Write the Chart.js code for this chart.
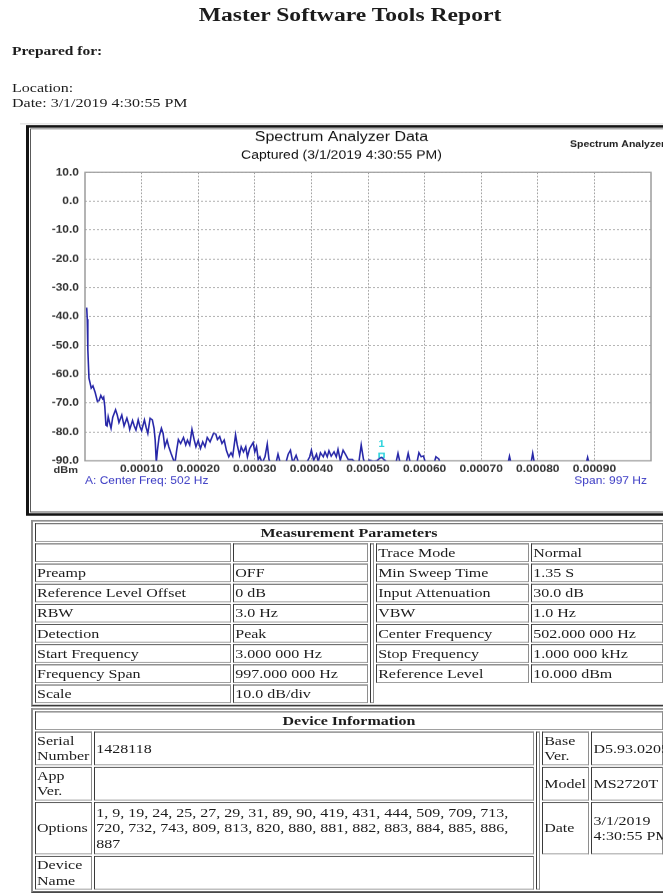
<!DOCTYPE html>
<html>
<head>
<meta charset="utf-8">
<title>Master Software Tools Report</title>
<script src="https://cdn.jsdelivr.net/npm/chart.js@4.4.1/dist/chart.umd.min.js"></script>
<style>
  html, body { margin: 0; padding: 0; width: 663px; height: 895px; overflow: hidden; background: #fff; }
  .page {
    position: absolute; left: 0; top: 0; width: 700px; height: 1066px;
    transform: scaleY(0.84); transform-origin: 0 0;
    font-family: 'Liberation Serif', 'Times New Roman', serif; color: #1c1c1c;
  }
  .report-title { position: absolute; left: 0; top: 3px; width: 700px; margin: 0; text-align: center; font-size: 23.6px; line-height: 28px; font-weight: bold; }
  .prepared { position: absolute; left: 12px; top: 50.5px; font-size: 15.5px; line-height: 18px; font-weight: bold; }
  .meta { position: absolute; left: 12px; top: 94.6px; font-size: 16px; line-height: 18px; }
  .rule { position: absolute; left: 20px; top: 147px; width: 680px; border-top: 1px solid #d2d2d2; }
  .chart-box {
    position: absolute; left: 26px; top: 148.8px; width: 646px; height: 465.5px;
    box-sizing: border-box; border: 3px solid #141414;
    box-shadow: inset 0 0 0 1px #fff, inset 0 0 0 2px #5a5a5a;
  }
  .chart-wrap { position: absolute; left: 3px; top: 1.8px; width: 634px; height: 450px; }
  table.report {
    position: absolute; left: 31px; width: 636px; table-layout: fixed;
    border: 2px outset #8e8e8e; border-spacing: 2px; font-size: 16px; line-height: 18px;
  }
  table.report th, table.report td { border: 1px inset #8e8e8e; padding: 1px; text-align: left; font-weight: normal; white-space: normal; }
  table.report th { text-align: center; font-weight: bold; }
  table.report td.gap { padding: 0; }
  table.report td.blank { border: none; }
  table.report td.nowrap { white-space: nowrap; }
  table.report tr.tall td { height: 58px; }
  #params { top: 619px; }
  #device { top: 843px; }
</style>
</head>
<body>
<div class="page">
  <h1 class="report-title">Master Software Tools Report</h1>
  <div class="prepared">Prepared for:</div>
  <div class="meta">Location:<br>Date: 3/1/2019 4:30:55 PM</div>
  <div class="rule"></div>

  <div class="chart-box">
    <div class="chart-wrap"><canvas id="spectrum"></canvas></div>
  </div>

  <table class="report" id="params">
    <colgroup><col style="width:195px"><col style="width:134px"><col style="width:4px"><col style="width:152px"><col style="width:131px"></colgroup>
    <tr><th colspan="5">Measurement Parameters</th></tr>
    <tr><td></td><td></td><td class="gap" rowspan="8"></td><td>Trace Mode</td><td>Normal</td></tr>
    <tr><td>Preamp</td><td>OFF</td><td>Min Sweep Time</td><td>1.35 S</td></tr>
    <tr><td>Reference Level Offset</td><td>0 dB</td><td>Input Attenuation</td><td>30.0 dB</td></tr>
    <tr><td>RBW</td><td>3.0 Hz</td><td>VBW</td><td>1.0 Hz</td></tr>
    <tr><td>Detection</td><td>Peak</td><td>Center Frequency</td><td>502.000 000 Hz</td></tr>
    <tr><td>Start Frequency</td><td>3.000 000 Hz</td><td>Stop Frequency</td><td>1.000 000 kHz</td></tr>
    <tr><td>Frequency Span</td><td>997.000 000 Hz</td><td>Reference Level</td><td>10.000 dBm</td></tr>
    <tr><td>Scale</td><td>10.0 dB/div</td><td class="blank" colspan="2"></td></tr>
  </table>

  <table class="report" id="device">
    <colgroup><col style="width:57px"><col style="width:437px"><col style="width:4px"><col style="width:47px"><col style="width:71px"></colgroup>
    <tr><th colspan="5">Device Information</th></tr>
    <tr><td>Serial Number</td><td>1428118</td><td class="gap" rowspan="4"></td><td>Base Ver.</td><td>D5.93.0205</td></tr>
    <tr><td>App Ver.</td><td></td><td>Model</td><td>MS2720T</td></tr>
    <tr class="tall"><td>Options</td><td>1, 9, 19, 24, 25, 27, 29, 31, 89, 90, 419, 431, 444, 509, 709, 713, 720, 732, 743, 809, 813, 820, 880, 881, 882, 883, 884, 885, 886, 887</td><td>Date</td><td class="nowrap">3/1/2019<br>4:30:55 PM</td></tr>
    <tr><td>Device Name</td><td></td><td class="blank" colspan="2"></td></tr>
  </table>
</div>

<script>
// trace A: frequency (Hz) and level (dBm)
const freqHz = [
  3, 4, 5, 7, 9, 11, 14, 18, 22, 25,
  28, 31, 33, 35, 37, 39, 41, 44, 46, 49,
  54, 57, 60, 65, 69, 74, 77, 79, 84, 87,
  90, 94, 97, 100, 105, 108, 111, 115, 119, 122,
  124, 126, 128, 131, 135, 138, 141, 145, 148, 152,
  156, 159, 162, 165, 169, 174, 178, 181, 185, 189,
  193, 196, 200, 204, 208, 212, 216, 221, 227, 231,
  234, 238, 242, 246, 250, 254, 258, 261, 266, 269,
  273, 276, 280, 284, 287, 291, 297, 300, 303, 306,
  309, 313, 318, 322, 325, 329, 336, 341, 345, 353,
  359, 363, 367, 373, 378, 388, 397, 400, 404, 409,
  412, 416, 421, 424, 428, 431, 435, 440, 444, 447,
  451, 456, 460, 465, 472, 478, 484, 488, 492, 497,
  502, 510, 516, 520, 524, 528, 534, 540, 549, 553,
  557, 567, 571, 575, 586, 590, 594, 598, 602, 615,
  620, 625, 630, 690, 746, 750, 754, 787, 791, 795,
  884, 888, 892, 1000
];
const levelDbm = [
  -36.9, -40.9, -51.4, -61.3, -63.0, -64.8, -64.0, -66.3, -69.4, -69.1,
  -67.3, -68.5, -67.9, -71.2, -77.6, -77.9, -74.7, -77.2, -78.7, -74.9,
  -72.3, -74.1, -76.7, -74.1, -77.9, -75.2, -77.2, -79.1, -76.0, -77.9,
  -79.3, -75.8, -78.1, -79.5, -75.8, -78.4, -80.5, -75.2, -75.8, -78.7,
  -82.8, -90.5, -86.3, -81.6, -78.7, -80.5, -85.1, -82.8, -85.1, -87.4,
  -89.5, -90.7, -86.3, -82.6, -84.0, -81.9, -84.5, -82.8, -84.5, -79.1,
  -82.8, -85.1, -83.0, -85.7, -83.4, -85.1, -81.9, -83.4, -80.5, -80.7,
  -82.6, -81.6, -84.0, -82.8, -86.5, -88.6, -87.2, -88.4, -81.0, -84.5,
  -88.0, -85.1, -86.9, -85.1, -88.6, -85.7, -83.7, -86.9, -85.1, -89.5,
  -88.6, -90.7, -88.6, -84.2, -89.5, -91.2, -92.0, -87.7, -90.7, -92.0,
  -87.7, -86.3, -90.7, -88.1, -91.0, -92.0, -88.6, -86.3, -89.8, -87.7,
  -90.3, -87.2, -88.6, -86.9, -88.6, -86.5, -88.4, -86.9, -88.6, -86.0,
  -89.8, -86.3, -87.7, -89.5, -89.5, -90.5, -90.3, -84.5, -89.5, -91.5,
  -89.7, -90.2, -89.9, -89.2, -88.8, -89.5, -90.5, -92.0, -91.0, -87.4,
  -91.0, -91.0, -87.4, -91.0, -91.0, -87.2, -88.6, -88.3, -91.0, -92.0,
  -88.6, -89.3, -92.0, -93.0, -92.0, -88.4, -92.0, -92.0, -87.4, -92.0,
  -92.0, -88.8, -92.0, -93.0
];

const markerFreqHz = 524;
const markerLevelDbm = -88.1;
const centerFreqHz = 502;
const spanHz = 997;

const levelTicks = [10, 0, -10, -20, -30, -40, -50, -60, -70, -80, -90];
const freqTicksMHz = [0.0001, 0.0002, 0.0003, 0.0004, 0.0005, 0.0006, 0.0007, 0.0008, 0.0009];

const tracePoints = freqHz.map((f, i) => ({ x: f / 1e6, y: levelDbm[i] }));

Chart.defaults.font.family = "'Liberation Sans', Arial, sans-serif";

// frame around the plot plus the captions around it
const analyzerDecor = {
  id: 'analyzerDecor',
  beforeDatasetsDraw(chart) {
    const { ctx, chartArea: a } = chart;
    ctx.save();
    ctx.strokeStyle = '#9c9c9c';
    ctx.lineWidth = 1.5;
    ctx.strokeRect(a.left, a.top, a.right - a.left, a.bottom - a.top);
    ctx.restore();
  },
  afterDraw(chart) {
    const { ctx, chartArea: a } = chart;
    ctx.save();
    ctx.textBaseline = 'middle';

    ctx.fillStyle = '#222';
    ctx.font = "bold 10.5px 'Liberation Sans', Arial, sans-serif";
    ctx.textAlign = 'left';
    ctx.fillText('Spectrum Analyzer', 538, 17.8);

    ctx.fillStyle = '#333';
    ctx.font = "bold 11px 'Liberation Sans', Arial, sans-serif";
    ctx.textAlign = 'right';
    ctx.fillText('dBm', a.left - 7, a.bottom + 11.5);

    ctx.fillStyle = '#3b3bc4';
    ctx.font = "12px 'Liberation Sans', Arial, sans-serif";
    ctx.textAlign = 'left';
    ctx.fillText('A: Center Freq: ' + centerFreqHz + ' Hz', a.left, a.bottom + 24.4);
    ctx.textAlign = 'right';
    ctx.fillText('Span: ' + spanHz + ' Hz', a.right - 4, a.bottom + 24.4);

    const mk = chart.getDatasetMeta(1).data[0];
    if (mk) {
      ctx.fillStyle = '#2fd3dd';
      ctx.font = "bold 11px 'Liberation Sans', Arial, sans-serif";
      ctx.textAlign = 'center';
      ctx.fillText('1', mk.x, mk.y - 13);
    }
    ctx.restore();
  }
};

new Chart(document.getElementById('spectrum'), {
  type: 'line',
  data: {
    datasets: [{
      label: 'Trace A',
      data: tracePoints,
      borderColor: '#2727a8',
      borderWidth: 1.6,
      pointRadius: 0,
      tension: 0,
      fill: false
    }, {
      label: 'Marker 1',
      data: [{ x: markerFreqHz / 1e6, y: markerLevelDbm }],
      showLine: false,
      pointStyle: 'rect',
      pointRadius: 3.5,
      borderColor: '#2fd3dd',
      backgroundColor: 'rgba(0,0,0,0)',
      borderWidth: 1.6
    }]
  },
  options: {
    responsive: true,
    maintainAspectRatio: false,
    animation: false,
    layout: { padding: { top: 0, left: 0, right: 15, bottom: 0 } },
    plugins: {
      legend: { display: false },
      tooltip: { enabled: false },
      title: {
        display: true,
        text: 'Spectrum Analyzer Data',
        color: '#111',
        font: { size: 16, weight: 'normal' },
        padding: { top: 0, bottom: 0 }
      },
      subtitle: {
        display: true,
        text: 'Captured (3/1/2019 4:30:55 PM)',
        color: '#111',
        font: { size: 14 },
        padding: { top: 3.3, bottom: 11.9 }
      }
    },
    scales: {
      x: {
        type: 'linear',
        min: 0,
        max: 0.001,
        afterBuildTicks: s => { s.ticks = freqTicksMHz.map(v => ({ value: v })); },
        afterFit: s => { s.height = 55.4; },
        ticks: {
          color: '#333',
          font: { size: 12, weight: 'bold' },
          padding: 3,
          maxRotation: 0,
          autoSkip: false,
          callback: v => v.toFixed(5)
        },
        grid: { color: '#9e9e9e', lineWidth: 1, drawTicks: false },
        border: { display: false, dash: [2, 2] }
      },
      y: {
        min: -90,
        max: 10,
        afterBuildTicks: s => { s.ticks = levelTicks.map(v => ({ value: v })); },
        afterFit: s => { s.width = 53; },
        ticks: {
          color: '#333',
          font: { size: 12, weight: 'bold' },
          padding: 6,
          callback: v => v.toFixed(1)
        },
        grid: { color: '#9e9e9e', lineWidth: 1, drawTicks: false },
        border: { display: false, dash: [2, 2] }
      }
    }
  },
  plugins: [analyzerDecor]
});
</script>
</body>
</html>
